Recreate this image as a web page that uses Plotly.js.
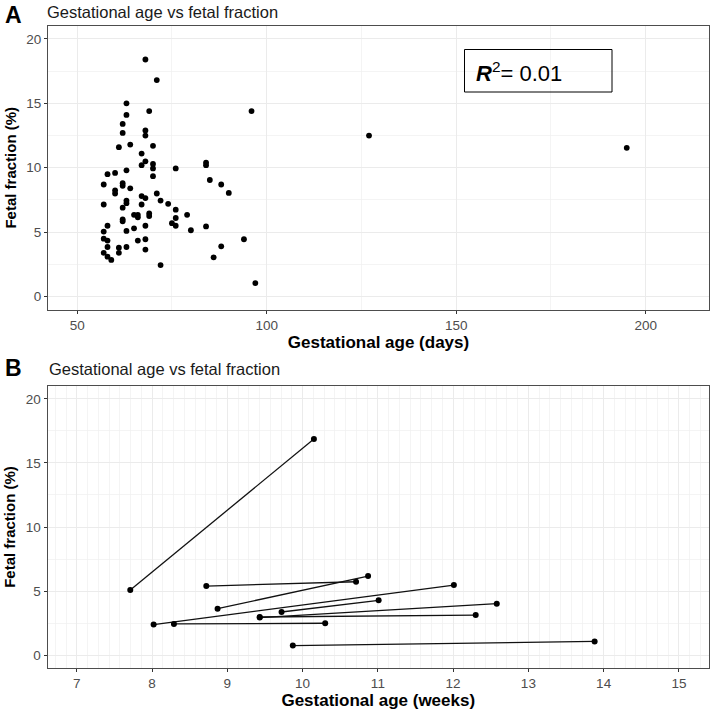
<!DOCTYPE html>
<html>
<head>
<meta charset="utf-8">
<script src="https://cdn.plot.ly/plotly-3.0.1.min.js"></script>
<style>
  html, body { margin: 0; padding: 0; background: #ffffff; }
  #chart { width: 711px; height: 714px; }
</style>
</head>
<body>
<div id="chart"></div>
<script>
// ---- Panel A data: gestational age (days) vs fetal fraction (%) ----
const gestationalDays = [
  68, 71, 63, 69, 63, 62, 62, 68, 68, 61, 64, 70, 67, 68, 67, 70, 70, 63, 60, 76,
  70, 58, 57, 62, 62, 64, 60, 60, 71, 72, 74, 67, 68, 57, 63, 63, 62, 67, 76, 65,
  66, 66, 69, 69, 79, 76, 62, 62, 58, 68, 75, 76, 65, 63, 57, 80, 57, 58, 66, 68,
  58, 61, 63, 68, 61, 57, 58, 59, 72,
  96, 84, 84, 85, 88, 90, 84, 94, 88, 86, 97,
  127, 195
];
const fetalFractionA = [
  18.4, 16.8, 15.0, 14.4, 14.1, 13.4, 12.7, 12.9, 12.5, 11.6, 11.8, 11.7, 11.1, 10.5, 10.2, 10.3, 9.95, 9.8, 9.6, 9.95,
  9.35, 9.5, 8.7, 8.8, 8.6, 8.4, 8.25, 8.0, 8.0, 7.45, 7.2, 7.8, 7.65, 7.15, 7.45, 7.25, 6.9, 7.15, 6.75, 6.35,
  6.35, 6.15, 6.45, 6.25, 6.35, 6.1, 6.0, 5.85, 5.5, 5.5, 5.7, 5.5, 5.3, 5.1, 5.05, 5.15, 4.5, 4.35, 4.35, 4.45,
  3.85, 3.8, 3.85, 3.65, 3.4, 3.4, 3.1, 2.85, 2.45,
  14.4, 10.4, 10.2, 9.05, 8.7, 8.05, 5.45, 4.45, 3.9, 3.05, 1.05,
  12.5, 11.55
];
const rSquaredLabel = "0.01";

// ---- Panel B data: paired samples, first and second draw (weeks, %) ----
const firstWeeks  = [7.71, 8.72, 8.87, 8.02, 8.29, 9.72, 9.43, 9.43, 9.87];
const firstFF     = [5.08, 5.39, 3.63, 2.39, 2.44, 3.37, 2.93, 2.98, 0.75];
const secondWeeks = [10.15, 10.71, 10.87, 12.01, 10.30, 11.01, 12.58, 12.30, 13.88];
const secondFF    = [16.87, 5.73, 6.17, 5.47, 2.49, 4.28, 4.02, 3.13, 1.07];

const xTicksA = [50, 100, 150, 200];
const xTicksB = [7, 8, 9, 10, 11, 12, 13, 14, 15];
const yTicks = [0, 5, 10, 15, 20];

const titleText = "Gestational age vs fetal fraction";

// ---- styling ----
const W = 711, H = 714;
const FONT = "Liberation Sans, Arial, Helvetica, sans-serif";
const gridMajor = "#ebebeb";
const gridMinor = "#f0f0f0";
const borderCol = "#4d4d4d";
const tickLab = "#4d4d4d";

function px(x) { return x / W; }
function py(y) { return 1 - y / H; }

const traces = [];
traces.push({
  type: "scatter", mode: "markers",
  x: gestationalDays, y: fetalFractionA,
  xaxis: "x", yaxis: "y",
  marker: { color: "#000000", size: 5.8 },
  hoverinfo: "x+y", showlegend: false
});
for (let i = 0; i < firstWeeks.length; i++) {
  traces.push({
    type: "scatter", mode: "lines+markers",
    x: [firstWeeks[i], secondWeeks[i]],
    y: [firstFF[i], secondFF[i]],
    xaxis: "x2", yaxis: "y2",
    line: { color: "#111111", width: 1.3 },
    marker: { color: "#000000", size: 6 },
    showlegend: false
  });
}

function yAxis(domain, anchor) {
  return {
    domain: domain, anchor: anchor,
    range: [-1, 21], tickvals: yTicks, ticktext: yTicks.map(String),
    showgrid: true, gridcolor: gridMajor, gridwidth: 1,
    minor: { dtick: 2.5, tick0: 0, showgrid: true, gridcolor: gridMinor, gridwidth: 0.7 },
    zeroline: false,
    showline: true, mirror: true, linecolor: borderCol, linewidth: 1,
    ticks: "outside", ticklen: 3, tickcolor: "#333333", tickwidth: 1,
    tickfont: { family: FONT, size: 13.5, color: tickLab },
    title: { text: "<b>Fetal fraction (%)</b>", font: { family: FONT, size: 15, color: "#000" }, standoff: 6 },
    automargin: false, fixedrange: true
  };
}

const layout = {
  width: W, height: H,
  margin: { l: 0, r: 0, t: 0, b: 0 },
  paper_bgcolor: "#ffffff", plot_bgcolor: "#ffffff",
  font: { family: FONT },
  showlegend: false,
  title: {
    text: titleText,
    font: { family: FONT, size: 16.5, color: "#1a1a1a" },
    x: px(47), xanchor: "left", xref: "container",
    y: py(12), yanchor: "middle", yref: "container"
  },
  xaxis: {
    domain: [px(48), px(709)], anchor: "y",
    range: [42.3, 216.7], tickvals: xTicksA, ticktext: xTicksA.map(String),
    showgrid: true, gridcolor: gridMajor, gridwidth: 1,
    minor: { dtick: 25, tick0: 0, showgrid: true, gridcolor: gridMinor, gridwidth: 0.7 },
    zeroline: false,
    showline: true, mirror: true, linecolor: borderCol, linewidth: 1,
    ticks: "outside", ticklen: 3, tickcolor: "#333333", tickwidth: 1,
    tickfont: { family: FONT, size: 13.5, color: tickLab },
    title: { text: "<b>Gestational age (days)</b>", font: { family: FONT, size: 17, color: "#000" }, standoff: 1 },
    automargin: false, fixedrange: true
  },
  yaxis: yAxis([py(309.5), py(26)], "x"),
  xaxis2: {
    domain: [px(47.5), px(709)], anchor: "y2",
    range: [6.61, 15.4], tickvals: xTicksB, ticktext: xTicksB.map(String),
    showgrid: true, gridcolor: gridMajor, gridwidth: 1,
    minor: { dtick: 1 / 7, tick0: 7, showgrid: true, gridcolor: gridMinor, gridwidth: 0.7 },
    zeroline: false,
    showline: true, mirror: true, linecolor: borderCol, linewidth: 1,
    ticks: "outside", ticklen: 3, tickcolor: "#333333", tickwidth: 1,
    tickfont: { family: FONT, size: 13.5, color: tickLab },
    title: { text: "<b>Gestational age (weeks)</b>", font: { family: FONT, size: 17, color: "#000" }, standoff: 1 },
    automargin: false, fixedrange: true
  },
  yaxis2: yAxis([py(668), py(386)], "x2"),
  shapes: [
    { type: "rect", xref: "paper", yref: "paper",
      x0: px(464.5), x1: px(612), y0: py(92), y1: py(49.5),
      line: { color: "#000000", width: 1 }, fillcolor: "rgba(0,0,0,0)", layer: "above" }
  ],
  annotations: [
    { text: "<b>A</b>", xref: "paper", yref: "paper", x: px(13), y: py(15),
      xanchor: "center", yanchor: "middle", showarrow: false,
      font: { family: FONT, size: 23, color: "#000" } },
    { text: "<b>B</b>", xref: "paper", yref: "paper", x: px(13), y: py(368),
      xanchor: "center", yanchor: "middle", showarrow: false,
      font: { family: FONT, size: 23, color: "#000" } },
    { text: titleText, xref: "paper", yref: "paper", x: px(47), y: py(369),
      xanchor: "left", yanchor: "middle", showarrow: false,
      font: { family: FONT, size: 16.5, color: "#1a1a1a" } },
    { text: "<b><i>R</i></b><sup>2</sup>= " + rSquaredLabel, xref: "paper", yref: "paper",
      x: px(474), y: py(72), xanchor: "left", yanchor: "middle", showarrow: false,
      font: { family: FONT, size: 22, color: "#000" } }
  ]
};

Plotly.newPlot("chart", traces, layout, { staticPlot: true, displayModeBar: false });
</script>
</body>
</html>
